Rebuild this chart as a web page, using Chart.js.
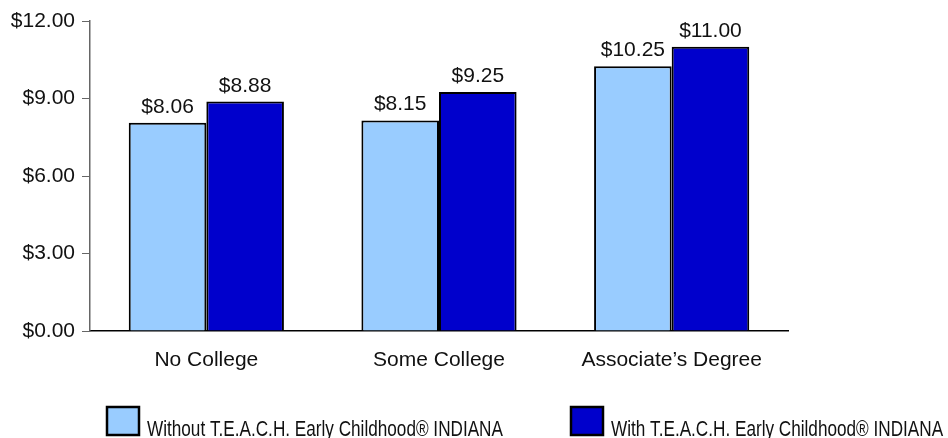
<!DOCTYPE html>
<html>
<head>
<meta charset="utf-8">
<script src="https://cdn.jsdelivr.net/npm/chart.js@4.4.1/dist/chart.umd.min.js"></script>
<style>
  html, body { margin: 0; padding: 0; background: #fff; }
  #wrap { width: 948px; height: 438px; }
</style>
</head>
<body>
<div id="wrap"><canvas id="chart-salarios" width="948" height="438"></canvas></div>
<script>
const categorias = ['No College', 'Some College', 'Associate\u2019s Degree']
const sinTeach = [8.06, 8.15, 10.25]
const conTeach = [8.88, 9.25, 11.00]
const ticksY = [0, 3, 6, 9, 12]
const nombresSeries = [
  'Without T.E.A.C.H. Early Childhood\u00ae INDIANA',
  'With T.E.A.C.H. Early Childhood\u00ae INDIANA'
]

const fuente = '"Liberation Sans", Arial, sans-serif'
const dinero = v => '$' + Number(v).toFixed(2)

// etiquetas con el valor encima de cada barra
const etiquetasValor = {
  id: 'etiquetasValor',
  afterDatasetsDraw(chart) {
    const ctx = chart.ctx
    ctx.save()
    ctx.font = '21px ' + fuente
    ctx.fillStyle = '#111'
    ctx.textAlign = 'center'
    ctx.textBaseline = 'alphabetic'
    chart.data.datasets.forEach((ds, i) => {
      chart.getDatasetMeta(i).data.forEach((bar, j) => {
        ctx.fillText(dinero(ds.data[j]), bar.x, bar.y - 10)
      })
    })
    ctx.restore()
  }
}

// leyenda abajo con cajas y texto angosto
const leyendaAbajo = {
  id: 'leyendaAbajo',
  afterDraw(chart) {
    const ctx = chart.ctx
    const posiciones = [107, 571]
    ctx.save()
    chart.data.datasets.forEach((ds, i) => {
      const x = posiciones[i]
      ctx.fillStyle = ds.backgroundColor
      ctx.fillRect(x, 407, 32, 28)
      ctx.lineWidth = 2.5
      ctx.strokeStyle = '#000'
      ctx.strokeRect(x, 407, 32, 28)

      ctx.save()
      ctx.translate(x + 40, 436)
      ctx.scale(0.78, 1)
      ctx.font = '22px ' + fuente
      ctx.fillStyle = '#111'
      ctx.textBaseline = 'alphabetic'
      ctx.fillText(ds.label, 0, 0)
      ctx.restore()
    })
    ctx.restore()
  }
}

const ctx = document.getElementById('chart-salarios').getContext('2d')

new Chart(ctx, {
  type: 'bar',
  data: {
    labels: categorias,
    datasets: [
      {
        label: nombresSeries[0],
        data: sinTeach,
        backgroundColor: '#99CCFF',
        borderColor: '#000',
        borderWidth: 2,
        borderSkipped: 'bottom'
      },
      {
        label: nombresSeries[1],
        data: conTeach,
        backgroundColor: '#0000CC',
        borderColor: '#000',
        borderWidth: 2,
        borderSkipped: 'bottom'
      }
    ]
  },
  options: {
    responsive: false,
    animation: false,
    devicePixelRatio: 1,
    layout: {
      padding: { top: 21, right: 160, left: 0, bottom: 0 }
    },
    datasets: {
      bar: { categoryPercentage: 0.667, barPercentage: 1 }
    },
    plugins: {
      legend: { display: false },
      tooltip: { enabled: false }
    },
    scales: {
      x: {
        afterFit: s => { s.height = 107 },
        grid: { display: false },
        border: { color: '#000', width: 1.5 },
        ticks: {
          color: '#111',
          padding: 9,
          maxRotation: 0,
          font: { family: fuente, size: 21 }
        }
      },
      y: {
        min: 0,
        max: 12,
        afterFit: s => { s.width = 90 },
        afterBuildTicks: s => { s.ticks = ticksY.map(v => ({ value: v })) },
        grid: {
          drawOnChartArea: false,
          drawTicks: true,
          tickLength: 8,
          color: '#666'
        },
        border: { color: '#666', width: 1.5 },
        ticks: {
          color: '#111',
          padding: 7,
          font: { family: fuente, size: 21 },
          callback: v => dinero(v)
        }
      }
    }
  },
  plugins: [etiquetasValor, leyendaAbajo]
})
</script>
</body>
</html>
